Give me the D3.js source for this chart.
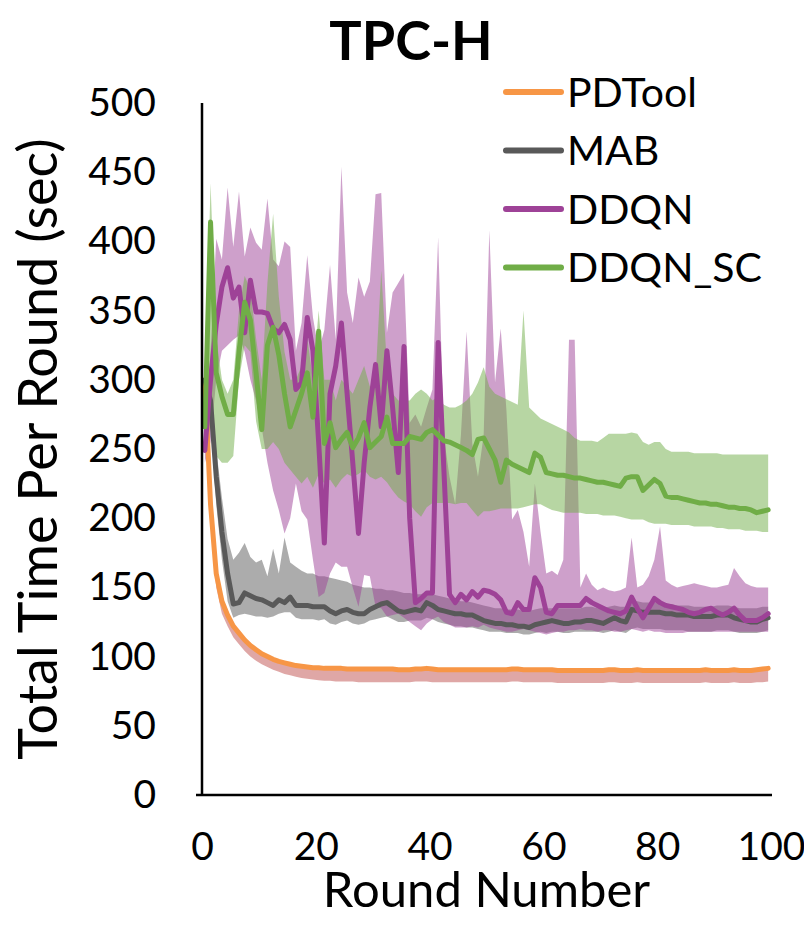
<!DOCTYPE html>
<html>
<head>
<meta charset="utf-8">
<script src="https://cdn.jsdelivr.net/npm/d3@7"></script>
<style>
  body { margin: 0; background: #fff; }
  text { font-family: Lato, "Open Sans", sans-serif; fill: #000; }
</style>
</head>
<body>
<div id="chart-area"></div>
<script>
// rounds 1..100 (x categories)
const rounds = d3.range(1, 101);
const xTicks = [0, 20, 40, 60, 80, 100];
const yTicks = [0, 50, 100, 150, 200, 250, 300, 350, 400, 450, 500];
const seriesNames = ["PDTool", "MAB", "DDQN", "DDQN_SC"];

const pdMean = [300,210,160,140,130,122,117,112,108,105,
  102,100,98,96.5,95.5,94.5,93.5,93,92.5,92,
  92,91.5,91.5,91.5,91.5,91,91,91,91,91,
  91,91,91,91,90.5,90.5,90.5,91,91,91.5,
  91,90.5,90.5,90.5,90.5,90.5,90.5,90.5,90.5,90.5,
  90.5,90.5,90.5,90.5,91,91,90.5,90.5,90.5,90.5,
  90.5,90.5,90,90,90,90,90,90,90,90,
  90,90.5,90.5,90,90,90,90.5,90,90,90,
  90,90,90,90,90,90,90,90,90.5,90,
  90,90,90,90.5,90,90,90,90.5,91,91.5];
const pdLow = [290,195,150,131,122,114,109,104,100,97,
  94.5,92.5,90.5,89,87.5,86.5,85.5,84.5,84,83.5,
  83,82.5,82.5,82,82,82,82,81.5,81.5,81.5,
  81.5,81.5,81.5,81.5,81.5,81.5,81.5,82,82,82,
  81.5,81.5,81.5,81.5,81.5,81.5,81.5,81.5,81.5,81.5,
  81.5,81.5,81.5,81.5,82,82,81.5,81.5,81.5,81.5,
  81.5,81.5,81,81,81,81,81,81,81,81,
  81,81.5,81.5,81,81,81,81.5,81,81,81,
  81,81,81,81,81,81,81,81,81.5,81,
  81,81,81,81.5,81,81,81,81.5,81.5,82];

const mabMean = [300,285,230,190,160,138,139,146,144,142,
  141,139,137,141,139,143,137,137,137,136,
  136,136,133,131,133,134,132,131,131,134,
  136,138,139,136,133,132,133,134,133,139,
  137,134,133,132,131,131,130,130,128,126,
  125,124,124,123,123,122,122,121,123,124,
  125,126,125,124,124,125,125,126,126,125,
  124,126,128,126,125,134,133,132,132,132,
  132,131,131,130,130,130,129,129,129,129,
  130,130,130,128,127,126,125,125,127,128];
const mabHigh = [310,300,250,215,185,170,175,182,172,168,
  170,158,178,160,186,168,165,162,160,160,
  158,158,157,156,155,154,152,151,150,150,
  149,149,148,148,147,146,146,145,145,147,
  145,144,143,142,141,140,140,139,138,137,
  136,135,135,134,134,134,133,133,134,135,
  135,135,135,135,135,135,135,136,136,135,
  135,136,137,136,136,140,140,139,139,139,
  139,138,138,137,137,137,136,136,136,136,
  137,137,137,136,135,135,135,135,136,136];
const mabLow = [290,270,210,170,140,128,130,131,130,129,
  129,128,129,131,132,132,128,127,127,127,
  126,127,124,123,125,126,124,123,124,126,
  127,128,129,127,125,125,126,126,126,128,
  127,125,124,123,122,122,121,121,120,119,
  118,118,118,117,117,117,116,116,117,118,
  117,118,118,117,117,118,118,118,118,118,
  117,118,119,118,117,120,121,120,120,120,
  120,119,119,119,119,118,118,118,118,118,
  119,119,119,118,117,117,117,117,118,119];

const ddqnMean = [249,300,340,367,381,359,367,334,372,349,
  349,348,337,334,340,329,293,298,345,321,
  255,182,290,310,341,290,240,189,240,280,
  311,266,321,280,233,324,200,139,142,146,
  146,327,236,145,139,145,141,147,143,148,
  147,145,141,132,131,139,134,134,157,150,
  132,131,137,137,137,137,137,142,139,137,
  135,133,132,131,133,143,135,128,135,142,
  139,137,136,135,134,132,131,132,134,135,
  132,130,132,135,130,126,126,126,128,131];
const ddqnHigh = [262,320,402,387,439,396,436,389,410,399,
  394,431,387,382,400,396,321,341,390,345,
  321,336,383,329,454,363,341,374,360,371,
  434,435,334,363,370,377,269,275,266,280,
  293,403,259,230,210,260,335,254,230,260,
  408,298,337,278,199,206,190,165,225,190,
  160,162,159,170,329,329,150,160,152,148,
  150,148,147,148,150,186,150,152,158,170,
  194,155,152,150,151,152,153,152,151,150,
  150,151,152,164,158,153,151,150,150,150];
const ddqnLow = [240,255,300,321,325,329,332,320,300,285,
  265,240,220,206,189,200,225,205,199,170,
  143,146,160,168,165,165,150,136,159,158,
  136,135,129,130,131,128,125,122,119,124,
  127,129,125,123,121,121,121,122,121,123,
  121,120,119,118,118,119,120,119,118,117,
  116,117,118,118,119,119,120,119,119,118,
  119,119,118,118,119,120,119,118,119,118,
  118,117,117,117,117,118,118,118,118,118,
  118,118,118,118,118,118,118,118,118,118];

const scMean = [266,414,305,288,275,275,320,356,343,305,
  264,325,338,318,290,266,278,290,305,273,
  335,254,269,251,257,262,251,258,269,251,
  255,259,273,254,254,254,259,258,257,262,
  264,260,256,255,253,251,249,246,257,258,
  250,242,226,242,239,237,235,233,247,244,
  233,232,231,231,230,229,229,228,227,226,
  226,225,224,223,229,230,230,220,224,228,
  225,216,215,215,214,213,212,211,211,210,
  210,209,208,208,207,207,206,204,205,206];
const scHigh = [280,442,330,300,290,300,350,375,365,330,
  300,370,420,360,320,300,300,310,330,300,
  350,300,300,285,300,295,290,300,310,295,
  300,379,310,290,285,285,285,290,293,290,
  285,288,282,280,280,282,285,290,298,309,
  295,290,288,286,284,282,350,280,276,272,
  270,268,266,264,262,258,256,256,256,255,
  258,261,261,261,261,262,261,255,253,255,
  255,250,248,248,248,248,247,247,247,247,
  247,246,246,246,246,246,246,246,246,246];
const scLow = [255,265,245,240,240,245,300,325,320,270,
  250,250,255,250,240,235,230,225,230,222,
  232,225,228,222,228,232,230,232,235,230,
  228,230,226,220,215,212,210,205,201,208,
  211,211,211,211,210,211,211,206,201,205,
  205,206,207,207,207,207,208,209,210,210,
  208,206,205,204,204,204,204,203,203,203,
  202,202,202,201,200,199,199,199,197,196,
  196,196,195,195,195,195,194,194,194,194,
  193,193,192,192,192,191,191,191,190,190];

const lineColors = ["#F79646", "#595959", "#9E4297", "#70AD47"];
const bandColors = ["#C0504D", "#595959", "#9E4297", "#70AD47"];

const svgWidth = 804, svgHeight = 936;
const margin = { left: 202, right: 33, top: 103, bottom: 141 };
const width = svgWidth - margin.left - margin.right;
const height = svgHeight - margin.top - margin.bottom;

const svg = d3.select("#chart-area")
              .append("svg")
              .attr("width", svgWidth)
              .attr("height", svgHeight);
const g = svg.append("g")
             .attr("transform", `translate(${margin.left},${margin.top})`);

const xAxisScale = d3.scaleLinear().domain([0, 100]).range([0, width]);
const x = d3.scaleBand().domain(rounds).range([0, width]);
const xc = r => x(r) + x.bandwidth() / 2;
const y = d3.scaleLinear().domain([0, 500]).range([height, 0]);

const series = [
  { mean: pdMean, low: pdLow, high: pdMean },
  { mean: mabMean, low: mabLow, high: mabHigh },
  { mean: ddqnMean, low: ddqnLow, high: ddqnHigh },
  { mean: scMean, low: scLow, high: scHigh }
];

// shaded bands first
series.forEach((s, k) => {
  const area = d3.area()
                 .x((d, i) => xc(rounds[i]))
                 .y0((d, i) => y(s.low[i]))
                 .y1((d, i) => y(s.high[i]));
  g.append("path")
   .datum(s.mean)
   .attr("d", area)
   .attr("fill", bandColors[k])
   .attr("fill-opacity", 0.5);
});

// then the lines
series.forEach((s, k) => {
  const line = d3.line()
                 .x((d, i) => xc(rounds[i]))
                 .y(d => y(d));
  g.append("path")
   .datum(s.mean)
   .attr("d", line)
   .attr("fill", "none")
   .attr("stroke", lineColors[k])
   .attr("stroke-width", 5)
   .attr("stroke-linejoin", "round")
   .attr("stroke-linecap", "round");
});

// axes
const yAxisCall = d3.axisLeft(y).tickValues(yTicks).tickSize(0).tickPadding(46);
g.append("g")
 .attr("class", "y axis")
 .call(yAxisCall)
 .attr("font-family", "Lato")
 .attr("font-size", 39)
 .call(a => a.select(".domain").remove());

const xAxisCall = d3.axisBottom(xAxisScale).tickValues(xTicks).tickSize(0).tickPadding(37);
g.append("g")
 .attr("class", "x axis")
 .attr("transform", `translate(0, ${height})`)
 .call(xAxisCall)
 .attr("font-family", "Lato")
 .attr("font-size", 39)
 .call(a => a.select(".domain").remove());

g.append("line")
 .attr("x1", 0).attr("x2", 0)
 .attr("y1", 0).attr("y2", height)
 .attr("stroke", "#000").attr("stroke-width", 2.5);
g.append("line")
 .attr("x1", -6).attr("x2", width + 1)
 .attr("y1", height).attr("y2", height)
 .attr("stroke", "#000").attr("stroke-width", 2.5);

// title and axis labels
svg.append("text")
   .attr("x", 411)
   .attr("y", 60)
   .attr("text-anchor", "middle")
   .attr("font-size", 54)
   .attr("font-weight", "bold")
   .text("TPC-H");

svg.append("text")
   .attr("x", margin.left + width / 2)
   .attr("y", 907)
   .attr("text-anchor", "middle")
   .attr("font-size", 49)
   .text("Round Number");

svg.append("text")
   .attr("x", -(margin.top + height / 2))
   .attr("y", 57)
   .attr("text-anchor", "middle")
   .attr("transform", "rotate(-90)")
   .attr("font-size", 54)
   .text("Total Time Per Round (sec)");

// legend
const legend = svg.append("g").attr("class", "legend");
seriesNames.forEach((name, k) => {
  const ly = 92 + k * 58.5;
  legend.append("line")
        .attr("x1", 506).attr("x2", 561)
        .attr("y1", ly).attr("y2", ly)
        .attr("stroke", lineColors[k])
        .attr("stroke-width", 6)
        .attr("stroke-linecap", "round");
  legend.append("text")
        .attr("x", 567)
        .attr("y", ly)
        .attr("dy", "0.36em")
        .attr("font-size", 41)
        .text(name);
});
</script>
</body>
</html>
